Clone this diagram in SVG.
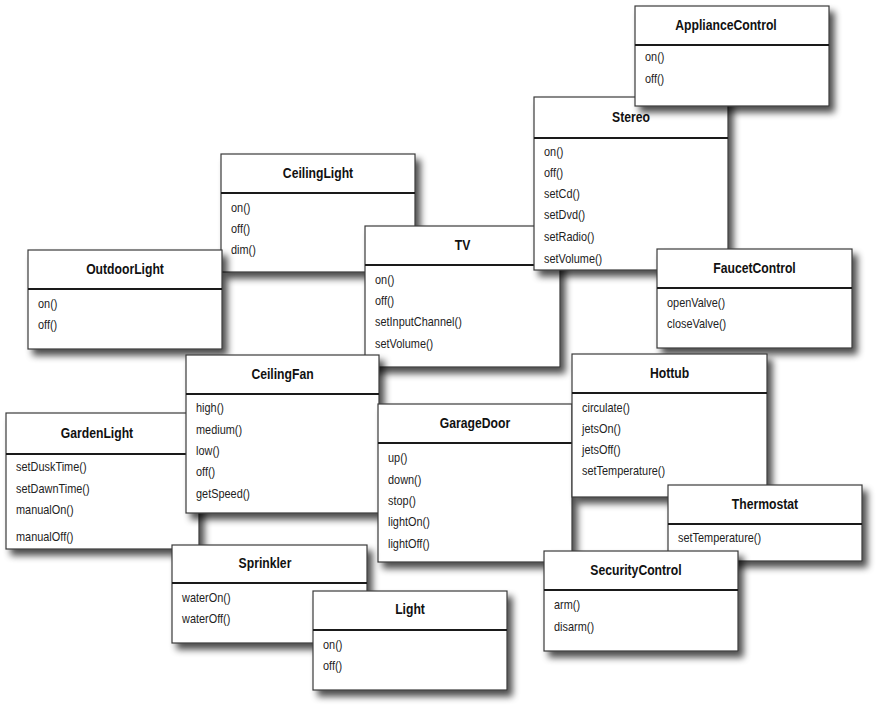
<svg xmlns="http://www.w3.org/2000/svg" width="880" height="709" viewBox="0 0 880 709">
<defs>
<filter id="sh" x="-10%" y="-10%" width="125%" height="135%">
<feGaussianBlur in="SourceAlpha" stdDeviation="3.5"/>
<feOffset dx="5" dy="6" result="b"/>
<feComponentTransfer><feFuncA type="linear" slope="0.7"/></feComponentTransfer>
<feMerge><feMergeNode/><feMergeNode in="SourceGraphic"/></feMerge>
</filter>
<style>
.box{fill:#fff;stroke:#3a3a3a;stroke-width:1.2;filter:url(#sh)}
.div{stroke:#1a1a1a;stroke-width:2}
.t{font-family:"Liberation Sans",Arial,sans-serif;font-weight:bold;font-size:14px;fill:#111;text-anchor:middle}
.m{font-family:"Liberation Sans",Arial,sans-serif;font-size:13px;fill:#222}
</style>
</defs>
<rect width="880" height="709" fill="#fff"/>

<g id="CeilingLight">
<rect class="box" x="221" y="154" width="194" height="118"/>
<line class="div" x1="221" y1="193" x2="415" y2="193"/>
<text class="t" transform="translate(318 0) scale(.87 1)" y="178">CeilingLight</text>
<text class="m" transform="translate(231 0) scale(.84 1)" y="212.5">on()</text>
<text class="m" transform="translate(231 0) scale(.84 1)" y="233.5">off()</text>
<text class="m" transform="translate(231 0) scale(.84 1)" y="254.5">dim()</text>
</g>

<g id="OutdoorLight">
<rect class="box" x="28" y="250" width="194" height="99"/>
<line class="div" x1="28" y1="289" x2="222" y2="289"/>
<text class="t" transform="translate(125 0) scale(.87 1)" y="274">OutdoorLight</text>
<text class="m" transform="translate(38 0) scale(.84 1)" y="308.5">on()</text>
<text class="m" transform="translate(38 0) scale(.84 1)" y="329.5">off()</text>
</g>

<g id="TV">
<rect class="box" x="365" y="226" width="195" height="141"/>
<line class="div" x1="365" y1="265" x2="560" y2="265"/>
<text class="t" transform="translate(462.5 0) scale(.87 1)" y="250">TV</text>
<text class="m" transform="translate(375 0) scale(.84 1)" y="284.5">on()</text>
<text class="m" transform="translate(375 0) scale(.84 1)" y="305.5">off()</text>
<text class="m" transform="translate(375 0) scale(.84 1)" y="326.5">setInputChannel()</text>
<text class="m" transform="translate(375 0) scale(.84 1)" y="348.5">setVolume()</text>
</g>

<g id="Stereo">
<rect class="box" x="534" y="97" width="194" height="173"/>
<line class="div" x1="534" y1="138" x2="728" y2="138"/>
<text class="t" transform="translate(631 0) scale(.87 1)" y="122">Stereo</text>
<text class="m" transform="translate(544 0) scale(.84 1)" y="156.5">on()</text>
<text class="m" transform="translate(544 0) scale(.84 1)" y="177.5">off()</text>
<text class="m" transform="translate(544 0) scale(.84 1)" y="198.5">setCd()</text>
<text class="m" transform="translate(544 0) scale(.84 1)" y="219.5">setDvd()</text>
<text class="m" transform="translate(544 0) scale(.84 1)" y="241.5">setRadio()</text>
<text class="m" transform="translate(544 0) scale(.84 1)" y="263.5">setVolume()</text>
</g>

<g id="ApplianceControl">
<rect class="box" x="635" y="6" width="194" height="100"/>
<line class="div" x1="635" y1="45" x2="829" y2="45"/>
<text class="t" transform="translate(726 0) scale(.87 1)" y="30">ApplianceControl</text>
<text class="m" transform="translate(645 0) scale(.84 1)" y="61.5">on()</text>
<text class="m" transform="translate(645 0) scale(.84 1)" y="83.5">off()</text>
</g>

<g id="FaucetControl">
<rect class="box" x="657" y="249" width="195" height="99"/>
<line class="div" x1="657" y1="288" x2="852" y2="288"/>
<text class="t" transform="translate(754.5 0) scale(.87 1)" y="273">FaucetControl</text>
<text class="m" transform="translate(667 0) scale(.84 1)" y="307.5">openValve()</text>
<text class="m" transform="translate(667 0) scale(.84 1)" y="328.5">closeValve()</text>
</g>

<g id="GardenLight">
<rect class="box" x="6" y="413" width="193" height="136"/>
<line class="div" x1="6" y1="454" x2="199" y2="454"/>
<text class="t" transform="translate(97 0) scale(.87 1)" y="438">GardenLight</text>
<text class="m" transform="translate(16 0) scale(.84 1)" y="471.5">setDuskTime()</text>
<text class="m" transform="translate(16 0) scale(.84 1)" y="493.5">setDawnTime()</text>
<text class="m" transform="translate(16 0) scale(.84 1)" y="514.5">manualOn()</text>
<text class="m" transform="translate(16 0) scale(.84 1)" y="541.5">manualOff()</text>
</g>

<g id="CeilingFan">
<rect class="box" x="186" y="355" width="193" height="158"/>
<line class="div" x1="186" y1="394" x2="379" y2="394"/>
<text class="t" transform="translate(282.5 0) scale(.87 1)" y="379">CeilingFan</text>
<text class="m" transform="translate(196 0) scale(.84 1)" y="412.5">high()</text>
<text class="m" transform="translate(196 0) scale(.84 1)" y="434.5">medium()</text>
<text class="m" transform="translate(196 0) scale(.84 1)" y="455.5">low()</text>
<text class="m" transform="translate(196 0) scale(.84 1)" y="476.5">off()</text>
<text class="m" transform="translate(196 0) scale(.84 1)" y="498.5">getSpeed()</text>
</g>

<g id="GarageDoor">
<rect class="box" x="378" y="404" width="194" height="158"/>
<line class="div" x1="378" y1="443" x2="572" y2="443"/>
<text class="t" transform="translate(475 0) scale(.87 1)" y="428">GarageDoor</text>
<text class="m" transform="translate(388 0) scale(.84 1)" y="462.5">up()</text>
<text class="m" transform="translate(388 0) scale(.84 1)" y="484.5">down()</text>
<text class="m" transform="translate(388 0) scale(.84 1)" y="505.5">stop()</text>
<text class="m" transform="translate(388 0) scale(.84 1)" y="526.5">lightOn()</text>
<text class="m" transform="translate(388 0) scale(.84 1)" y="548.5">lightOff()</text>
</g>

<g id="Hottub">
<rect class="box" x="572" y="354" width="195" height="143"/>
<line class="div" x1="572" y1="393" x2="767" y2="393"/>
<text class="t" transform="translate(669.5 0) scale(.87 1)" y="378">Hottub</text>
<text class="m" transform="translate(582 0) scale(.84 1)" y="412.5">circulate()</text>
<text class="m" transform="translate(582 0) scale(.84 1)" y="433.5">jetsOn()</text>
<text class="m" transform="translate(582 0) scale(.84 1)" y="454.5">jetsOff()</text>
<text class="m" transform="translate(582 0) scale(.84 1)" y="475.5">setTemperature()</text>
</g>

<g id="Thermostat">
<rect class="box" x="668" y="485" width="194" height="76"/>
<line class="div" x1="668" y1="524" x2="862" y2="524"/>
<text class="t" transform="translate(765 0) scale(.87 1)" y="509">Thermostat</text>
<text class="m" transform="translate(678 0) scale(.84 1)" y="542.5">setTemperature()</text>
</g>

<g id="SecurityControl">
<rect class="box" x="544" y="551" width="194" height="100"/>
<line class="div" x1="544" y1="590" x2="738" y2="590"/>
<text class="t" transform="translate(636 0) scale(.87 1)" y="575">SecurityControl</text>
<text class="m" transform="translate(554 0) scale(.84 1)" y="609.5">arm()</text>
<text class="m" transform="translate(554 0) scale(.84 1)" y="631.5">disarm()</text>
</g>

<g id="Sprinkler">
<rect class="box" x="172" y="545" width="195" height="98"/>
<line class="div" x1="172" y1="583" x2="367" y2="583"/>
<text class="t" transform="translate(265 0) scale(.87 1)" y="568">Sprinkler</text>
<text class="m" transform="translate(182 0) scale(.84 1)" y="602.5">waterOn()</text>
<text class="m" transform="translate(182 0) scale(.84 1)" y="623.5">waterOff()</text>
</g>

<g id="Light">
<rect class="box" x="313" y="591" width="194" height="99"/>
<line class="div" x1="313" y1="630" x2="507" y2="630"/>
<text class="t" transform="translate(410 0) scale(.87 1)" y="614">Light</text>
<text class="m" transform="translate(323 0) scale(.84 1)" y="649.5">on()</text>
<text class="m" transform="translate(323 0) scale(.84 1)" y="670.5">off()</text>
</g>
</svg>
